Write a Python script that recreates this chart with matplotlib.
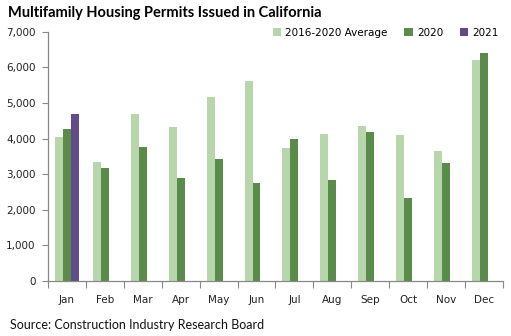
import matplotlib.pyplot as plt
import numpy as np
from matplotlib.ticker import FuncFormatter

months = ['Jan', 'Feb', 'Mar', 'Apr', 'May', 'Jun', 'Jul', 'Aug', 'Sep', 'Oct', 'Nov', 'Dec']
avg_16_20 = [4050, 3340, 4690, 4320, 5170, 5620, 3740, 4130, 4360, 4100, 3660, 6210]
y2020 = [4270, 3180, 3770, 2900, 3430, 2760, 3990, 2840, 4190, 2330, 3320, 6400]
y2021 = [4690]

c_avg = '#b7d6ab'
c_2020 = '#5a8b4b'
c_2021 = '#614b8b'

fig = plt.figure(figsize=(5.11, 3.36), dpi=100)
ax = fig.add_axes([0.094, 0.164, 0.890, 0.741])

x = np.arange(len(months))
w = 0.21
ax.bar(x - w, avg_16_20, w, color=c_avg, label='2016-2020 Average')
ax.bar(x, y2020, w, color=c_2020, label='2020')
ax.bar(x[:len(y2021)] + w, y2021, w, color=c_2021, label='2021')

ax.set_xlim(-0.5, len(months) - 0.5)
ax.set_ylim(0, 7000)
ax.set_yticks(range(0, 7001, 1000))
ax.yaxis.set_major_formatter(FuncFormatter(lambda v, p: f'{int(v):,}'))

# ticks at category boundaries, labels at centres
ax.set_xticks(np.arange(-0.5, len(months), 1.0))
ax.set_xticklabels([])
ax.set_xticks(x, minor=True)
ax.set_xticklabels(months, minor=True)
ax.tick_params(axis='x', which='minor', length=0, pad=10, labelsize=7.5, labelcolor='#222222')
ax.tick_params(axis='x', which='major', length=5, direction='out', color='#888888')
ax.tick_params(axis='y', length=4, direction='out', color='#888888', labelsize=7.5,
               labelcolor='#222222', pad=5)

for s in ['top', 'right']:
    ax.spines[s].set_visible(False)
for s in ['left', 'bottom']:
    ax.spines[s].set_color('#888888')
    ax.spines[s].set_linewidth(0.9)

ax.legend(loc='center right', bbox_to_anchor=(1.0, 0.996), ncol=3, frameon=False,
          fontsize=7.5, handlelength=0.8, handleheight=0.8, handletextpad=0.4,
          columnspacing=1.6, borderaxespad=0)

fig.text(8 / 511, 1 - 13 / 336, 'Multifamily Housing Permits Issued in California',
         fontsize=10.5, fontweight='bold', family='Lato', va='center', ha='left')
fig.text(10 / 511, 1 - 325 / 336, 'Source: Construction Industry Research Board',
         fontsize=9, family='Lato', va='center', ha='left', color='#111111')

fig.savefig('out.png', dpi=100)
